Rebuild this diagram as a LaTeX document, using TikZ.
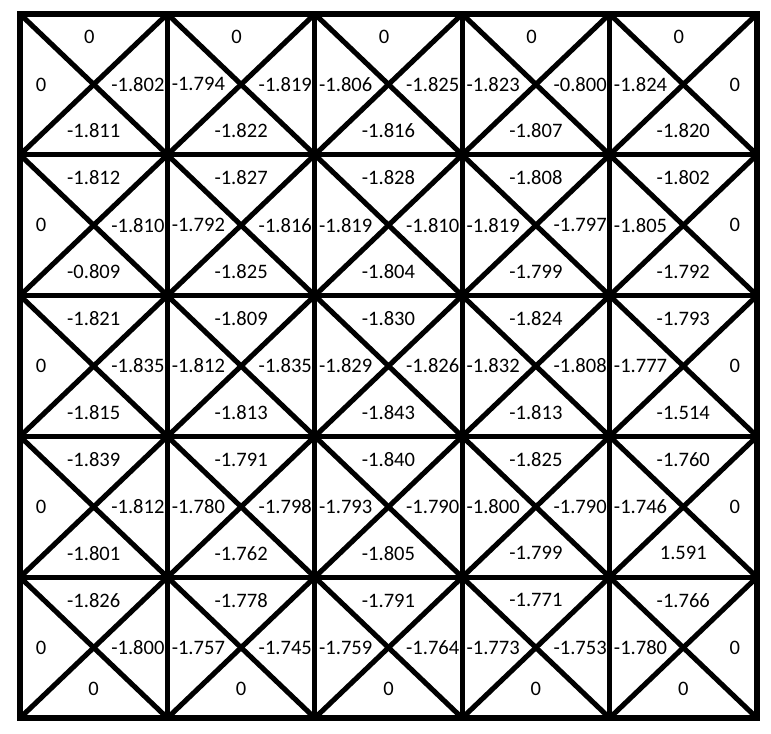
\documentclass[tikz,border=0pt]{standalone}
\usepackage{fontspec}
\setmainfont{Carlito}
\tikzset{
  % --- cell lines ---
  gridline/.style={line width=2.9pt, draw=black, line cap=rect},
  diagline/.style={line width=2.9pt, draw=black, line cap=round},
  % --- cell values ---
  val/.style={font=\fontsize{11.7}{14}\selectfont, inner sep=1pt},
}
\begin{document}
\begin{tikzpicture}[x=2.948cm, y=-2.816cm]
  \useasboundingbox ([shift={(-0.4cm,0.28cm)}]0,0) rectangle ([shift={(0.28cm,-0.30cm)}]5,5);
  % both diagonals in every cell
  \foreach \row in {0,...,4}
    \foreach \col in {0,...,4} {
      \draw[diagline] (\col,\row) -- (\col+1,\row+1);
      \draw[diagline] (\col+1,\row) -- (\col,\row+1);
    }
  % grid
  \foreach \i in {0,...,5} {
    \draw[gridline] (\i,0) -- (\i,5);
    \draw[gridline] (0,\i) -- (5,\i);
  }
  % values: row/col/top/left/right/bottom
  \foreach \row/\col/\vt/\vl/\vr/\vb in {
      0/0/0/0/-1.802/-1.811, 0/1/0/-1.794/-1.819/-1.822, 0/2/0/-1.806/-1.825/-1.816,
      0/3/0/-1.823/-0.800/-1.807, 0/4/0/-1.824/0/-1.820,
      1/0/-1.812/0/-1.810/-0.809, 1/1/-1.827/-1.792/-1.816/-1.825, 1/2/-1.828/-1.819/-1.810/-1.804,
      1/3/-1.808/-1.819/-1.797/-1.799, 1/4/-1.802/-1.805/0/-1.792,
      2/0/-1.821/0/-1.835/-1.815, 2/1/-1.809/-1.812/-1.835/-1.813, 2/2/-1.830/-1.829/-1.826/-1.843,
      2/3/-1.824/-1.832/-1.808/-1.813, 2/4/-1.793/-1.777/0/-1.514,
      3/0/-1.839/0/-1.812/-1.801, 3/1/-1.791/-1.780/-1.798/-1.762, 3/2/-1.840/-1.793/-1.790/-1.805,
      3/3/-1.825/-1.800/-1.790/-1.799, 3/4/-1.760/-1.746/0/1.591,
      4/0/-1.826/0/-1.800/0, 4/1/-1.778/-1.757/-1.745/0, 4/2/-1.791/-1.759/-1.764/0,
      4/3/-1.771/-1.773/-1.753/0, 4/4/-1.766/-1.780/0/0} {
    \pgfmathsetmacro\lx{\col==0 ? 0.143 : 0.21}
    \pgfmathsetmacro\rx{\col==4 ? 0.85 : 0.80}
    \pgfmathsetmacro\tx{\row==0 ? 0.47 : 0.5}
    \pgfmathsetmacro\by{\row==4 ? 0.79 : 0.83}
    \node[val] (t\row\col) at (\col+\tx,\row+0.165) {\vt};
    \node[val] (l\row\col) at (\col+\lx,\row+0.5) {\vl};
    \node[val] (r\row\col) at (\col+\rx,\row+0.5) {\vr};
    \node[val] (b\row\col) at (\col+0.5,\row+\by) {\vb};
  }
\end{tikzpicture}
\end{document}
